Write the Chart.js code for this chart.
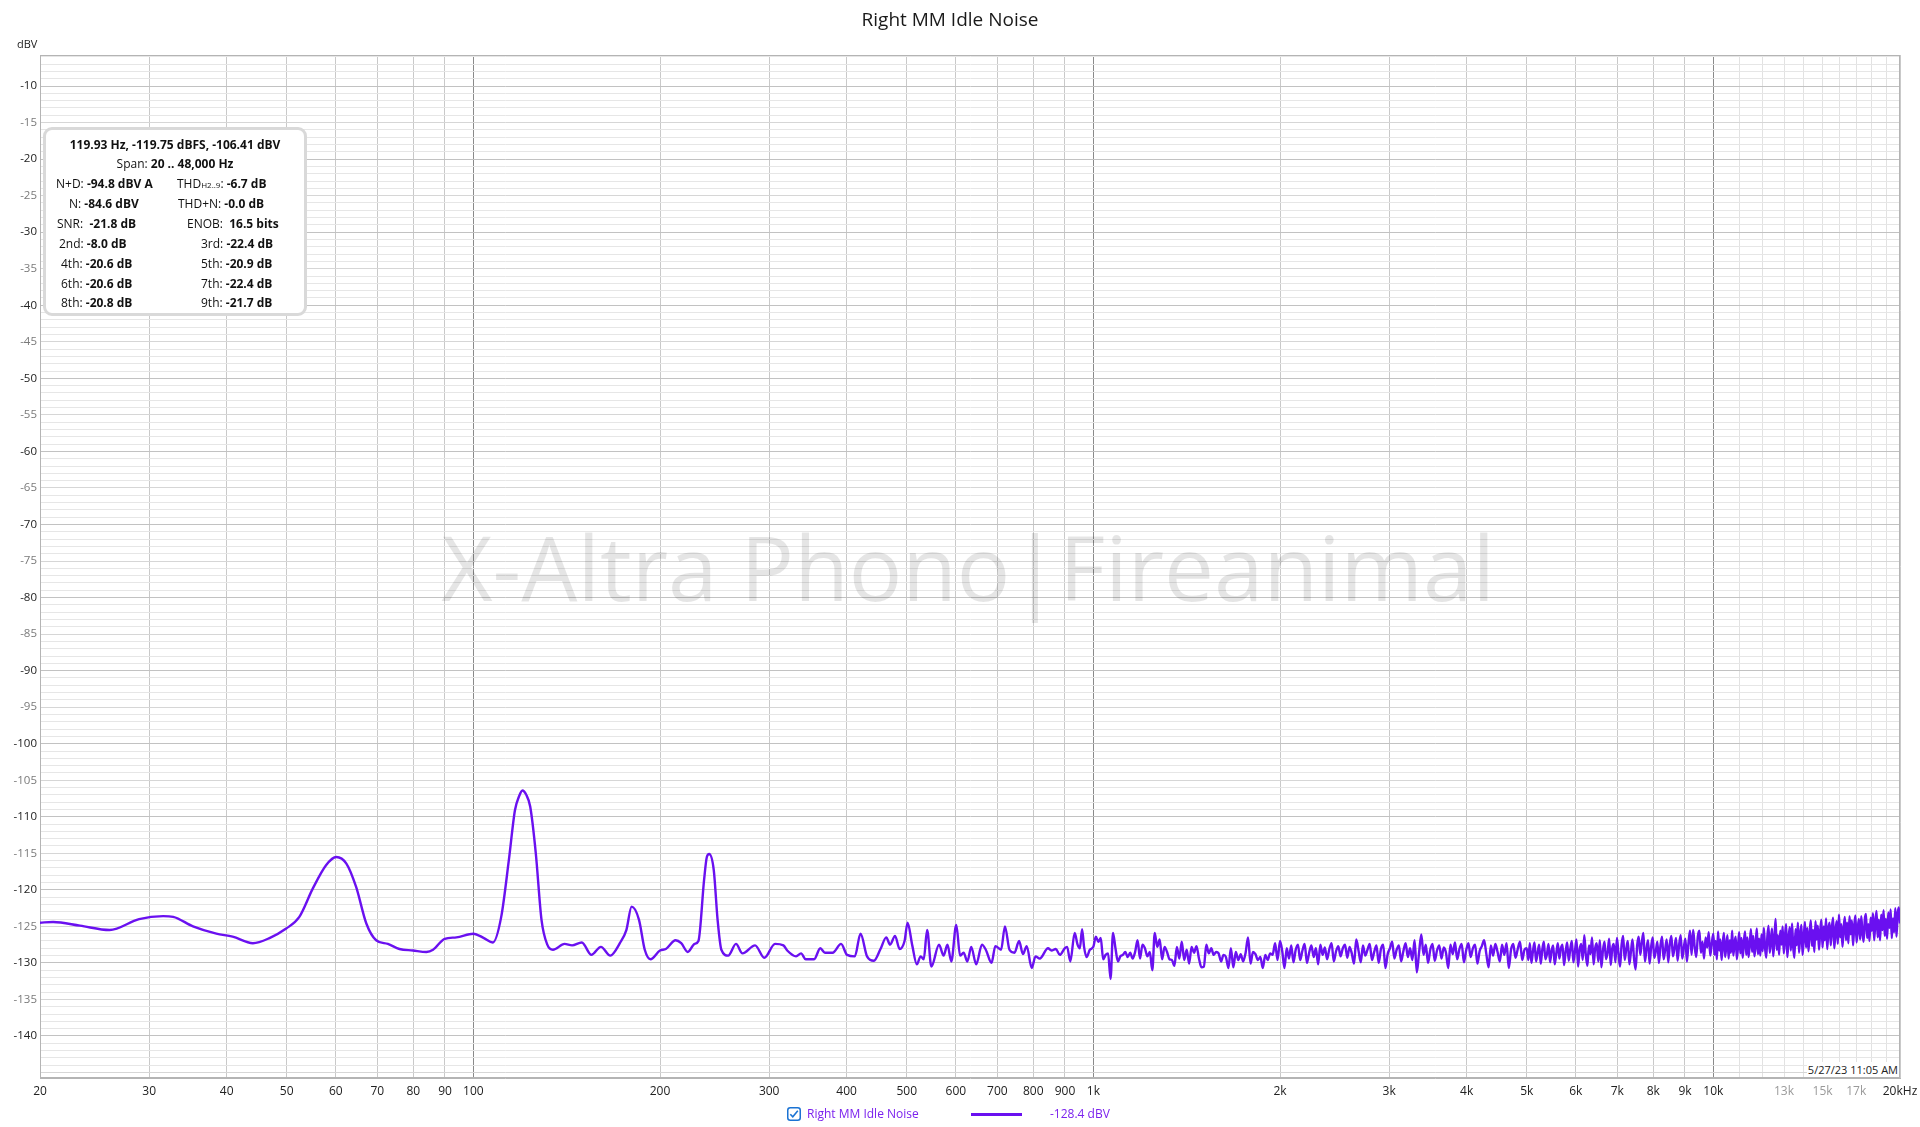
<!DOCTYPE html>
<html>
<head>
<meta charset="utf-8">
<script src="https://cdn.jsdelivr.net/npm/chart.js@4.4.1/dist/chart.umd.min.js"></script>
<style>
html,body{margin:0;padding:0;background:#fff;}
#wrap{position:relative;width:1920px;height:1127px;overflow:hidden;font-family:"Open Sans","Noto Sans",sans-serif;color:#111;}
#c{position:absolute;left:0;top:0;}
#unit{position:absolute;left:17px;top:37px;font-size:11px;line-height:14px;color:#222;}
#info{position:absolute;left:43px;top:127px;width:264px;height:189px;box-sizing:border-box;border:3px solid #d9d9d9;border-radius:9px;background:#fff;font-size:12px;}
#info .row{position:absolute;line-height:16px;white-space:pre;}
#info .c{left:0;width:100%;text-align:center;}
#info .sub{font-size:8px;}
#stamp{position:absolute;right:21px;top:1062px;font-size:11px;line-height:15px;background:#fff;color:#222;padding:0 1px;}
#legend{position:absolute;left:0;top:1105px;width:1920px;height:20px;font-size:12px;color:#7b22ee;}
#legend .cb{position:absolute;left:787px;top:2px;}
#legend .name{position:absolute;left:807px;top:0;line-height:18px;}
#legend .swatch{position:absolute;left:971px;top:8px;width:51px;height:3px;background:#6a10f0;}
#legend .val{position:absolute;left:1050px;top:0;line-height:18px;}
</style>
</head>
<body>
<div id="wrap">
<canvas id="c" width="1920" height="1127"></canvas>
<div id="unit">dBV</div>
<div id="info">
  <div class="row c" style="top:7px"><b>119.93 Hz, -119.75 dBFS, -106.41 dBV</b></div>
  <div class="row c" style="top:26px">Span: <b>20 .. 48,000 Hz</b></div>
  <div class="row" style="top:46px;left:10px">N+D: <b>-94.8 dBV A</b></div>
  <div class="row" style="top:46px;left:131px">THD<span class="sub">H2..9</span>: <b>-6.7 dB</b></div>
  <div class="row" style="top:66px;left:23px">N: <b>-84.6 dBV</b></div>
  <div class="row" style="top:66px;left:132px">THD+N: <b>-0.0 dB</b></div>
  <div class="row" style="top:86px;left:11px">SNR:  <b>-21.8 dB</b></div>
  <div class="row" style="top:86px;left:141px">ENOB:  <b>16.5 bits</b></div>
  <div class="row" style="top:106px;left:13px">2nd: <b>-8.0 dB</b></div>
  <div class="row" style="top:106px;left:155px">3rd: <b>-22.4 dB</b></div>
  <div class="row" style="top:126px;left:15px">4th: <b>-20.6 dB</b></div>
  <div class="row" style="top:126px;left:155px">5th: <b>-20.9 dB</b></div>
  <div class="row" style="top:146px;left:15px">6th: <b>-20.6 dB</b></div>
  <div class="row" style="top:146px;left:155px">7th: <b>-22.4 dB</b></div>
  <div class="row" style="top:165px;left:15px">8th: <b>-20.8 dB</b></div>
  <div class="row" style="top:165px;left:155px">9th: <b>-21.7 dB</b></div>
</div>
<div id="stamp">5/27/23 11:05 AM</div>
<div id="legend">
  <svg class="cb" width="14" height="14" viewBox="0 0 14 14"><rect x="0.75" y="0.75" width="12.5" height="12.5" rx="2.5" fill="#fff" stroke="#1b73d3" stroke-width="1.5"/><path d="M3.3 7.2 L5.8 9.8 L10.8 3.8" fill="none" stroke="#1b73d3" stroke-width="1.6"/></svg>
  <span class="name">Right MM Idle Noise</span>
  <span class="swatch"></span>
  <span class="val">-128.4 dBV</span>
</div>
</div>
<script>
// ---- chart data ----
const chartTitle = 'Right MM Idle Noise';
const seriesName = 'Right MM Idle Noise';
const watermarkText = 'X-Altra Phono|Fireanimal';

const xTickHz = [20,30,40,50,60,70,80,90,100,200,300,400,500,600,700,800,900,1000,2000,3000,4000,5000,6000,7000,8000,9000,10000,11000,12000,13000,14000,15000,16000,17000,18000,19000,20000];
const xTickText = ['20','30','40','50','60','70','80','90','100','200','300','400','500','600','700','800','900','1k','2k','3k','4k','5k','6k','7k','8k','9k','10k','','','13k','','15k','','17k','','','20kHz'];
const yTickDbv = [-10,-15,-20,-25,-30,-35,-40,-45,-50,-55,-60,-65,-70,-75,-80,-85,-90,-95,-100,-105,-110,-115,-120,-125,-130,-135,-140];
const yMinDbv = -145.75, yMaxDbv = -5.75;

// low-frequency part: explicit frequency / level pairs
const lowFreqHz = [20,21,23.2,25.9,28.9,31.6,32.8,35.3,38.5,40.9,44.1,46.9,49.9,52.4,55.1,57.9,60.1,62.4,64.7,67.2,69.7,72.8,76,79.9,84,86.1,89.9,93.9,100,104,107.5,110.9,114.1,116.7,118.5,120,121.7,123.5,126.1,128.8,131.6,134.4,140.3,144.3,149.6,155,160.6,166.3,172.3,176.5,180,185,189,193.1,200,204.4,211.9,216.4,221.7,227.4,230.7,235.6,238,240.1,244.2,247.7,251.2,257.7,265.2,271.7,284.7,294.6,306.6,316.3,320.8,331.5,337.7,343.6,354.5,362.7,369,379.7,391.8,400.7,412.3,421.2,431.5,442.7,453.6,463.4,470,478.8,487,496,501.6,510.4,519.1,526.5,532.6,539.4,547.9,563.7,573.4,581.6,590,601,609.6,617.6,626.4,635.3,647.2,661.2,670.7,685.1,694.9,709.8,720.1,732.3,746.1,759,769.8,780.7,795.4,806.7,819.6,845,856,870,883,899,907,918,933,943,951,959,966,975,987];
const lowLevelDbv = [-124.5,-124.4,-124.9,-125.5,-124.0,-123.6,-123.7,-125.0,-126.0,-126.4,-127.3,-126.6,-125.3,-123.7,-119.8,-116.6,-115.5,-116.4,-119.6,-124.6,-126.9,-127.4,-128.1,-128.3,-128.5,-128.2,-126.7,-126.5,-126.0,-126.6,-127.2,-123.7,-115.9,-109.1,-107.2,-106.4,-107.0,-108.6,-115.0,-124.1,-127.5,-128.2,-127.4,-127.6,-127.2,-128.9,-127.8,-129.0,-127.3,-125.5,-122.3,-124.1,-128.2,-129.5,-128.3,-128.1,-126.9,-127.3,-128.5,-127.4,-127.0,-118.6,-115.5,-115.1,-117.3,-124.1,-128.2,-129.0,-127.4,-128.7,-127.6,-129.3,-127.4,-127.6,-128.3,-129.1,-128.7,-129.5,-129.5,-128.0,-128.6,-128.6,-127.4,-128.9,-129.1,-126.0,-129.1,-129.7,-128.1,-126.5,-127.5,-126.3,-128.1,-127.0,-124.5,-127.6,-130.2,-129.1,-129.5,-125.5,-130.5,-127.5,-129.0,-127.5,-129.8,-124.8,-129.0,-128.6,-129.8,-127.8,-130.2,-127.5,-128.2,-130.0,-127.7,-128.2,-125.0,-128.2,-128.6,-127.0,-128.8,-127.7,-130.7,-129.1,-129.4,-128.0,-128.3,-128.1,-128.9,-128.0,-127.8,-129.8,-125.9,-127.5,-128.0,-125.4,-127.8,-129.2,-128.2];

// noise floor above 1 kHz: levels per band (bins spread evenly in log frequency over the band)
const band1kTo2kDbv = [-127.8,-126.4,-127.1,-126.6,-129.5,-128.9,-128.7,-132.2,-125.9,-128.0,-129.8,-129.1,-128.9,-128.5,-129.2,-128.6,-129.4,-128.5,-126.9,-129.4,-127.5,-128.0,-129.1,-128.5,-131.0,-125.9,-127.8,-126.8,-129.5,-127.8,-128.5,-129.5,-129.6,-130.4,-127.8,-129.4,-127.1,-129.6,-128.2,-130.1,-127.8,-128.6,-127.7,-129.4,-130.6,-130.5,-127.5,-128.7,-128.0,-128.9,-128.5,-128.7,-129.8,-128.9,-129.2,-130.7,-128.0,-130.6,-128.5,-129.6,-128.8,-129.8,-128.6,-126.5,-130.1,-128.5,-128.8,-129.6,-129.2,-130.7,-128.9,-129.6,-128.7,-128.9,-127.3,-129.6];
const band2kTo5kDbv = [-127.0,-128.4,-130.7,-128.0,-129.4,-127.6,-129.9,-128.2,-127.5,-129.6,-128.3,-127.4,-130.0,-128.6,-127.6,-129.2,-128.0,-130.2,-127.5,-128.9,-127.9,-129.5,-128.1,-127.3,-129.8,-128.4,-127.7,-129.1,-128.0,-127.5,-129.3,-127.8,-128.7,-130.1,-126.8,-128.3,-129.9,-127.6,-129.0,-128.2,-127.4,-129.6,-128.5,-127.6,-130.0,-128.1,-127.5,-130.7,-128.8,-128.0,-127.1,-129.4,-128.2,-127.6,-129.8,-128.4,-127.3,-129.2,-128.0,-129.6,-126.9,-131.3,-128.6,-126.1,-128.9,-127.5,-130.0,-128.2,-127.4,-129.7,-128.3,-127.6,-129.4,-127.9,-128.6,-130.7,-127.5,-128.8,-127.2,-129.5,-128.1,-127.4,-129.9,-128.3,-127.3,-129.2,-128.0,-127.5,-130.1,-128.4,-127.7,-126.9,-128.8,-130.6,-127.6,-129.0,-127.4,-128.5,-129.8,-127.5,-128.9,-127.3,-130.7,-128.2,-127.4,-129.3,-128.1,-127.1,-129.6,-128.2];
const band5kTo10kDbv = [-128.0,-129.6,-127.3,-130.0,-128.4,-127.2,-129.8,-128.6,-127.5,-130.1,-128.2,-127.1,-129.5,-128.8,-127.4,-129.9,-128.3,-127.6,-130.2,-128.7,-127.3,-129.4,-128.0,-127.5,-130.3,-128.5,-127.2,-129.7,-128.1,-127.0,-129.9,-128.4,-126.8,-130.5,-128.2,-127.4,-129.6,-126.2,-128.9,-130.4,-127.6,-128.8,-126.5,-130.2,-128.0,-127.3,-129.8,-126.9,-130.6,-128.3,-127.1,-129.5,-128.6,-126.7,-130.3,-128.0,-127.4,-129.9,-126.6,-128.7,-130.5,-127.5,-126.3,-129.6,-128.1,-127.0,-130.2,-128.5,-126.8,-129.4,-130.9,-127.6,-126.4,-128.9,-127.2,-125.9,-129.8,-128.1,-126.9,-130.1,-127.8,-126.5,-129.3,-128.4,-127.1,-130.0,-127.6,-126.4,-129.5,-128.2,-126.8,-129.9,-127.4,-126.3,-129.1,-128.0,-126.6,-129.7,-127.5,-126.2,-129.4,-127.9,-126.7,-129.8,-127.3,-125.6,-128.9,-125.5,-127.8,-129.2,-126.4,-125.6,-128.6,-127.1,-129.4,-126.5,-127.9,-125.8,-129.0,-127.3];
const band10kTo20kDbv = [-126.0,-128.9,-127.0,-129.5,-125.7,-128.3,-126.8,-129.6,-127.4,-125.9,-129.2,-127.7,-126.2,-129.4,-126.9,-128.6,-125.6,-129.0,-127.3,-126.4,-129.5,-127.8,-125.8,-128.7,-126.6,-129.3,-127.1,-125.7,-128.9,-126.5,-129.2,-127.4,-125.4,-128.5,-126.3,-129.1,-127.6,-125.3,-128.8,-126.7,-129.0,-126.1,-128.4,-125.2,-127.9,-129.3,-126.4,-124.9,-128.6,-127.0,-125.3,-129.1,-126.8,-124.0,-128.2,-126.2,-128.9,-125.6,-127.5,-125.0,-128.7,-126.4,-124.7,-129.2,-126.9,-125.1,-128.3,-124.6,-127.8,-129.3,-125.4,-127.6,-124.5,-128.6,-126.1,-124.8,-128.9,-126.6,-124.4,-127.9,-125.2,-128.4,-126.0,-124.2,-127.7,-125.5,-128.5,-124.3,-126.8,-124.9,-128.2,-125.7,-124.1,-127.9,-125.0,-126.9,-123.9,-128.1,-125.4,-124.5,-127.6,-125.1,-123.8,-128.0,-125.8,-124.3,-127.4,-123.4,-126.5,-124.7,-127.8,-125.2,-123.7,-126.9,-124.5,-127.3,-123.6,-126.1,-124.2,-127.6,-124.9,-123.5,-127.2,-125.3,-124.0,-126.8,-123.6,-125.9,-127.1,-124.1,-123.3,-126.6,-124.7,-127.0,-123.8,-125.6,-123.2,-126.9,-124.4,-122.9,-126.5,-124.1,-126.9,-123.4,-125.5,-122.8,-126.3,-124.0,-126.7,-123.1,-125.2,-122.7,-126.6,-123.9,-125.8,-122.5,-126.4,-123.3,-122.4,-124.6];

// ---- build point list ----
function bandPoints(f0, f1, vals, inclusiveEnd) {
  const d = inclusiveEnd ? vals.length - 1 : vals.length;
  return vals.map((v, i) => ({ x: f0 * Math.pow(f1 / f0, i / d), y: v }));
}
const points = lowFreqHz.map((f, i) => ({ x: f, y: lowLevelDbv[i] }))
  .concat(bandPoints(1000, 2000, band1kTo2kDbv, false))
  .concat(bandPoints(2000, 5000, band2kTo5kDbv, false))
  .concat(bandPoints(5000, 10000, band5kTo10kDbv, false))
  .concat(bandPoints(10000, 20000, band10kTo20kDbv, true));

// 1 dB minor grid positions
const yGridDbv = [];
for (let v = -6; v >= -145; v--) yGridDbv.push(v);

const framePlugin = {
  id: 'frameAndWatermark',
  beforeDatasetsDraw(chart) {
    const { ctx, chartArea: a } = chart;
    ctx.save();
    ctx.font = '89px "Open Sans", "Noto Sans", sans-serif';
    ctx.fillStyle = 'rgba(0,0,0,0.10)';
    ctx.textAlign = 'center';
    ctx.textBaseline = 'alphabetic';
    ctx.fillText(watermarkText, (a.left + a.right) / 2 - 2, (a.top + a.bottom) / 2 + 34);
    ctx.strokeStyle = '#b4b4b4';
    ctx.lineWidth = 1;
    ctx.strokeRect(a.left + 0.5, a.top + 0.5, a.right - a.left - 1, a.bottom - a.top - 1);
    ctx.restore();
  }
};

new Chart(document.getElementById('c'), {
  type: 'line',
  data: {
    datasets: [{
      label: seriesName,
      data: points,
      borderColor: '#6a10f0',
      borderWidth: 2.4,
      pointRadius: 0,
      fill: false,
      cubicInterpolationMode: 'monotone'
    }]
  },
  options: {
    responsive: false,
    devicePixelRatio: 1,
    animation: false,
    events: [],
    layout: { padding: { left: 0, right: 20, top: 0, bottom: 0 } },
    plugins: {
      legend: { display: false },
      tooltip: { enabled: false },
      title: {
        display: true,
        text: chartTitle,
        color: '#1a1a1a',
        font: { family: '"Open Sans", "Noto Sans", sans-serif', size: 19, weight: 'normal', lineHeight: 1.2 },
        padding: { top: 9, bottom: 23.2 }
      }
    },
    scales: {
      x: {
        type: 'logarithmic',
        min: 20,
        max: 20000,
        afterBuildTicks: s => { s.ticks = xTickHz.map(v => ({ value: v })); },
        afterFit: s => { s.height = 49; s.paddingLeft = 0; s.paddingRight = 0; },
        ticks: {
          autoSkip: false,
          maxRotation: 0,
          padding: 6,
          font: { family: '"Open Sans", "Noto Sans", sans-serif', size: 12 },
          color: ctx => (ctx.tick.value > 10000 && ctx.tick.value < 20000) ? '#9a9a9a' : '#222',
          callback: (v, i) => xTickText[i]
        },
        grid: {
          drawTicks: false,
          color: ctx => {
            const v = ctx.tick ? ctx.tick.value : 0;
            if (v === 100 || v === 1000 || v === 10000) return '#8a8a8a';
            if (v > 10000 && v < 20000) return '#e2e2e2';
            return '#c9c9c9';
          },
          lineWidth: 1
        },
        border: { display: true, color: '#b4b4b4' }
      },
      y: {
        type: 'linear',
        min: yMinDbv,
        max: yMaxDbv,
        afterBuildTicks: s => { s.ticks = yGridDbv.map(v => ({ value: v })); },
        afterFit: s => { s.width = 40; s.paddingTop = 0; s.paddingBottom = 0; },
        ticks: {
          autoSkip: false,
          padding: 3,
          font: { family: '"Open Sans", "Noto Sans", sans-serif', size: 11.5 },
          color: ctx => (ctx.tick.value % 10 === 0) ? '#222' : '#7a7a7a',
          callback: v => yTickDbv.includes(v) ? String(v) : ''
        },
        grid: {
          drawTicks: false,
          color: ctx => {
            const v = ctx.tick ? ctx.tick.value : 0;
            if (v % 10 === 0) return '#c2c2c2';
            if (v % 5 === 0) return '#d6d6d6';
            return '#e6e6e6';
          },
          lineWidth: 1
        },
        border: { display: true, color: '#b4b4b4' }
      }
    }
  },
  plugins: [framePlugin]
});
</script>
</body>
</html>
